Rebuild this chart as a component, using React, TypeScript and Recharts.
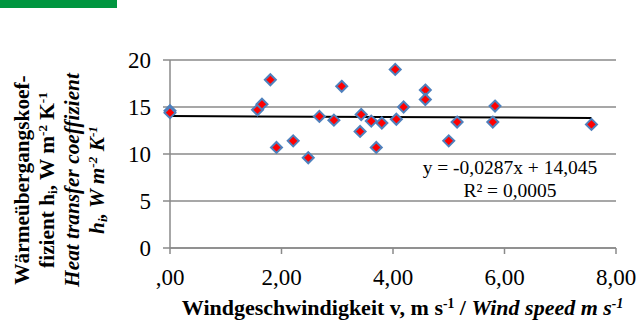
import { ScatterChart, Scatter, XAxis, YAxis, CartesianGrid, ReferenceLine } from 'recharts';

const windSpeed = [
  0.0, 0.0, 1.57, 1.65, 1.8, 1.91, 2.21, 2.48, 2.68, 2.94, 3.08, 3.41, 3.43, 3.61, 3.7, 3.8,
  4.04, 4.06, 4.19, 4.58, 4.58, 5.0, 5.15, 5.79, 5.83, 7.56,
];
const heatTransfer = [
  14.6, 14.4, 14.7, 15.3, 17.9, 10.7, 11.4, 9.6, 14.0, 13.6, 17.2, 12.4, 14.2, 13.5, 10.7, 13.3,
  19.0, 13.7, 15.0, 16.8, 15.8, 11.4, 13.4, 13.4, 15.1, 13.15,
];
const xTicks = [0, 2, 4, 6, 8];
const yTicks = [0, 5, 10, 15, 20];

// Excel trendline y = -0,0287x + 14,045, drawn across the measured range
const slope = -0.0287;
const intercept = 14.045;
const trendRange = [0, 7.56];

const points = windSpeed.map((x, i) => ({ x, y: heatTransfer[i] }));

const GRID = '#8a8a8a';
const SERIF = 'Liberation Serif, Times New Roman, serif';

const Diamond = (props: any) => {
  const { cx, cy } = props;
  const r = 5.5;
  return (
    <polygon
      points={`${cx},${cy - r} ${cx + r},${cy} ${cx},${cy + r} ${cx - r},${cy}`}
      fill="#ff0000"
      stroke="#4f81bd"
      strokeWidth={2}
    />
  );
};

const fmtX = (v: number) => (v === 0 ? ',00' : v.toFixed(2).replace('.', ','));

const renderXTick = (props: any) => {
  const { x, y, payload } = props;
  return (
    <text x={x} y={y + 15} textAnchor="middle" fill="#000" fontFamily={SERIF} fontSize={23}>
      {fmtX(payload.value)}
    </text>
  );
};

const renderYTick = (props: any) => {
  const { x, y, payload } = props;
  return (
    <text x={x} y={y + 7.5} textAnchor="end" fill="#000" fontFamily={SERIF} fontSize={23}>
      {String(payload.value)}
    </text>
  );
};

const sup = { fontSize: '0.62em', verticalAlign: '0.55em', lineHeight: 0 } as const;
const sub = { fontSize: '0.62em', verticalAlign: '-0.25em', lineHeight: 0 } as const;

export default function App() {
  return (
    <div
      style={{
        position: 'absolute',
        left: 0,
        top: 0,
        width: 637,
        height: 320,
        background: '#fff',
        fontFamily: SERIF,
        color: '#000',
      }}
    >
      <div style={{ position: 'absolute', left: 0, top: 0, width: 117, height: 8, background: '#009640' }} />

      <ScatterChart width={637} height={320} margin={{ top: 60, right: 21, bottom: 32, left: 110 }}>
        <CartesianGrid horizontal vertical={false} stroke={GRID} strokeWidth={1.5} />
        <XAxis
          type="number"
          dataKey="x"
          domain={[0, 8]}
          ticks={xTicks}
          height={40}
          tickSize={6}
          tickMargin={16}
          axisLine={{ stroke: GRID, strokeWidth: 1.5 }}
          tickLine={{ stroke: GRID, strokeWidth: 1.5 }}
          tick={renderXTick}
        />
        <YAxis
          type="number"
          dataKey="y"
          domain={[0, 20]}
          ticks={yTicks}
          width={60}
          tickSize={7}
          tickMargin={12}
          axisLine={{ stroke: GRID, strokeWidth: 1.5 }}
          tickLine={{ stroke: GRID, strokeWidth: 1.5 }}
          tick={renderYTick}
        />
        <Scatter data={points} shape={Diamond} isAnimationActive={false} />
        <ReferenceLine
          segment={trendRange.map((x) => ({ x, y: intercept + slope * x }))}
          stroke="#000"
          strokeWidth={2}
        />
      </ScatterChart>

      <div
        style={{
          position: 'absolute',
          left: 410,
          top: 156,
          width: 200,
          textAlign: 'center',
          fontSize: 19.5,
          lineHeight: '23px',
        }}
      >
        <div>y = -0,0287x + 14,045</div>
        <div>R² = 0,0005</div>
      </div>

      <div
        style={{
          position: 'absolute',
          left: 150,
          top: 297,
          width: 505,
          textAlign: 'center',
          fontSize: 22,
          lineHeight: '22px',
          fontWeight: 'bold',
          whiteSpace: 'nowrap',
        }}
      >
        Windgeschwindigkeit v, m s<span style={sup}>-1</span> /{' '}
        <i>
          Wind speed m s<span style={sup}>-1</span>
        </i>
      </div>

      <div
        style={{
          position: 'absolute',
          left: 60 - 130,
          top: 180 - 50,
          width: 260,
          height: 100,
          transform: 'rotate(-90deg)',
          transformOrigin: 'center',
          textAlign: 'center',
          fontSize: 21.3,
          lineHeight: '25px',
          fontWeight: 'bold',
          whiteSpace: 'nowrap',
        }}
      >
        <div>Wärmeübergangskoef-</div>
        <div>
          fizient h<span style={sub}>i</span>, W m<span style={sup}>-2</span> K<span style={sup}>-1</span>
        </div>
        <div>
          <i>Heat transfer coeffizient</i>
        </div>
        <div>
          <i>
            h<span style={sub}>i</span>, W m<span style={sup}>-2</span> K<span style={sup}>-1</span>
          </i>
        </div>
      </div>
    </div>
  );
}
